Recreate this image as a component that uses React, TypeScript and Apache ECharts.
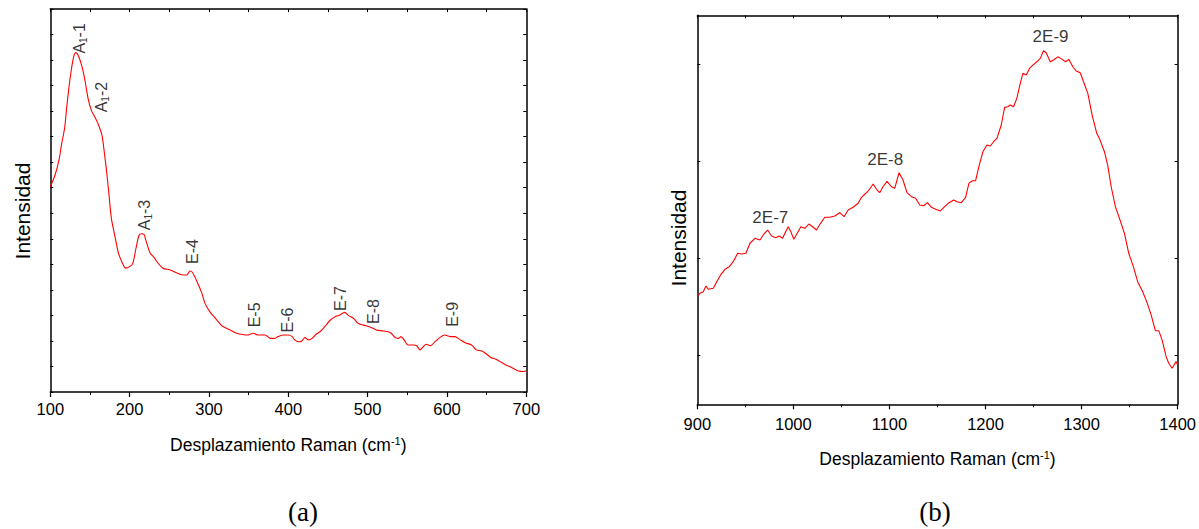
import React, { useEffect, useRef } from "react";
import * as echarts from "echarts";

// ---------- Panel (a): 100–700 cm-1 ----------
const ramanA = [100, 106, 111, 114, 118, 121, 125, 129, 132, 135, 140, 144, 148, 152, 156, 160, 165, 168, 171, 174, 177, 182, 186, 191, 195, 200, 204, 208, 212, 215, 218, 221, 226, 230, 236, 242, 251, 259, 268, 272, 276, 279, 285, 291, 295, 301, 308, 316, 322, 329, 335, 341, 348, 356, 362, 371, 377, 383, 387, 394, 400, 405, 408, 413, 417, 421, 425, 430, 435, 440, 446, 453, 459, 465, 471, 476, 482, 488, 495, 503, 511, 520, 528, 535, 539, 542, 546, 551, 558, 562, 566, 570, 574, 579, 585, 591, 597, 604, 610, 616, 623, 631, 637, 644, 650, 656, 661, 667, 673, 682, 690, 697, 700];
const intensityA = [8.04, 8.5, 9.09, 9.67, 10.33, 11.24, 12.29, 13.07, 13.29, 13.2, 12.74, 12.15, 11.44, 11.01, 10.78, 10.52, 10.07, 9.41, 8.63, 7.72, 6.8, 6.02, 5.43, 5.04, 4.85, 4.91, 5.04, 5.63, 6.15, 6.2, 6.18, 5.89, 5.43, 5.3, 5.04, 4.85, 4.78, 4.67, 4.58, 4.58, 4.74, 4.69, 4.32, 3.87, 3.47, 3.15, 2.89, 2.6, 2.5, 2.39, 2.3, 2.26, 2.23, 2.3, 2.23, 2.23, 2.1, 2.1, 2.17, 2.23, 2.23, 2.17, 2.04, 1.97, 2.0, 2.13, 2.04, 2.1, 2.26, 2.36, 2.56, 2.82, 2.95, 3.02, 3.12, 2.99, 2.89, 2.69, 2.62, 2.55, 2.43, 2.39, 2.34, 2.13, 2.1, 2.17, 2.04, 1.84, 1.84, 1.81, 1.65, 1.77, 1.87, 1.81, 1.97, 2.13, 2.23, 2.17, 2.17, 2.06, 1.93, 1.84, 1.65, 1.61, 1.48, 1.34, 1.29, 1.19, 1.08, 0.95, 0.82, 0.8, 0.83];
const peakNamesA = ["A{s|1}-1", "A{s|1}-2", "A{s|1}-3", "E-4", "E-5", "E-6", "E-7", "E-8", "E-9"];
const peakXA = [137, 165, 219, 279, 358, 399, 466, 508, 607];
const peakYA = [13.85, 11.55, 6.93, 5.5, 3.02, 2.82, 3.66, 3.15, 3.04];

// ---------- Panel (b): 900–1400 cm-1 ----------
const ramanB = [900, 902.8, 906.2, 909, 911.4, 916.6, 920.2, 924.3, 928.8, 933.3, 937.4, 942, 946.2, 950.6, 954.8, 960, 965.2, 969.3, 973.2, 977.3, 981.8, 985.2, 988.8, 991.2, 994.6, 997.4, 1000.5, 1004, 1007.8, 1012, 1016.1, 1020, 1024.1, 1028.3, 1032.7, 1037.9, 1043.1, 1048.3, 1052.8, 1057, 1062.2, 1067.4, 1070.9, 1075.4, 1078.8, 1083, 1086.5, 1089.9, 1093.3, 1097.5, 1102.1, 1105.5, 1110, 1114.1, 1118.3, 1122.9, 1127.3, 1131.5, 1135.7, 1139.5, 1143.7, 1148.1, 1153, 1157.5, 1162, 1166.8, 1170.3, 1174.8, 1179.3, 1182.7, 1186.3, 1189.7, 1193.1, 1197.3, 1201.5, 1205, 1208.4, 1211.9, 1216.4, 1219.9, 1223.3, 1225.8, 1229.2, 1232.6, 1236.2, 1238.9, 1242.4, 1245.8, 1249.3, 1253.4, 1257, 1260.4, 1263.2, 1267.4, 1270.8, 1275.3, 1279.8, 1283.3, 1286.7, 1290.9, 1294.4, 1298.6, 1302, 1306.5, 1311, 1315.8, 1319.3, 1323.8, 1327.2, 1330.8, 1335.2, 1339.4, 1344.6, 1349.1, 1353.9, 1358.4, 1363.6, 1367.8, 1372.4, 1376.8, 1380.3, 1383.8, 1388, 1390.7, 1394.2, 1398.4, 1400];
const intensityB = [1.107, 1.142, 1.158, 1.217, 1.183, 1.193, 1.261, 1.33, 1.388, 1.415, 1.467, 1.553, 1.546, 1.553, 1.656, 1.707, 1.69, 1.751, 1.792, 1.731, 1.713, 1.731, 1.707, 1.758, 1.826, 1.775, 1.697, 1.758, 1.826, 1.81, 1.854, 1.826, 1.792, 1.861, 1.923, 1.923, 1.936, 1.97, 1.929, 1.998, 2.026, 2.067, 2.128, 2.17, 2.204, 2.265, 2.211, 2.176, 2.237, 2.293, 2.237, 2.221, 2.381, 2.306, 2.176, 2.135, 2.118, 2.049, 2.042, 2.073, 2.026, 2.005, 1.988, 2.032, 2.073, 2.101, 2.083, 2.073, 2.128, 2.272, 2.299, 2.299, 2.443, 2.597, 2.666, 2.656, 2.7, 2.735, 2.872, 3.053, 3.06, 3.077, 3.06, 3.146, 3.3, 3.403, 3.385, 3.454, 3.488, 3.522, 3.557, 3.635, 3.615, 3.522, 3.54, 3.573, 3.547, 3.522, 3.547, 3.471, 3.427, 3.409, 3.317, 3.197, 2.974, 2.786, 2.717, 2.597, 2.46, 2.237, 2.032, 1.913, 1.758, 1.553, 1.415, 1.261, 1.158, 1.056, 0.919, 0.757, 0.757, 0.662, 0.49, 0.422, 0.371, 0.439, 0.405];
const yTicksB = [0.5, 1.5, 2.5, 3.5];
const peakNamesB = ["2E-7", "2E-8", "2E-9"];
const peakXB = [976, 1095.6, 1267.7];
const peakYB = [1.916, 2.522, 3.786];

const SANS = "'Liberation Sans', Arial, Helvetica, sans-serif";
const SERIF = "'Liberation Serif', 'Times New Roman', serif";
const BLACK = "#000000";
const RED = "#ff0000";

function zip(xs: number[], ys: number[]) {
  return xs.map((x, i) => [x, ys[i]]);
}

function bottomAxis(grid: number, min: number, max: number, margin: number, nameGap: number) {
  return {
    type: "value",
    gridIndex: grid,
    position: "bottom",
    min,
    max,
    interval: 100,
    axisLine: { show: true, onZero: false, lineStyle: { color: BLACK, width: 1.5 } },
    axisTick: { show: true, inside: false, length: 5, lineStyle: { color: BLACK, width: 1.2 } },
    minorTick: { show: true, splitNumber: 2, length: 3, lineStyle: { color: BLACK, width: 1 } },
    axisLabel: {
      show: true,
      color: BLACK,
      fontSize: 16.5,
      fontFamily: SANS,
      margin,
      formatter: (v: number) => String(v),
    },
    splitLine: { show: false },
    name: "{n|Desplazamiento Raman (cm}{p|-1}{n|)}",
    nameLocation: "middle",
    nameGap,
    nameTextStyle: {
      rich: {
        n: { fontSize: 17.5, fontFamily: SANS, color: BLACK, lineHeight: 20 },
        p: { fontSize: 11, fontFamily: SANS, color: BLACK, verticalAlign: "top", lineHeight: 10 },
      },
    },
  };
}

function topAxis(grid: number, min: number, max: number) {
  return {
    type: "value",
    gridIndex: grid,
    position: "top",
    min,
    max,
    interval: 50,
    axisLine: { show: true, onZero: false, lineStyle: { color: BLACK, width: 1.5 } },
    axisTick: { show: true, inside: true, length: 3, lineStyle: { color: BLACK, width: 1 } },
    axisLabel: { show: false },
    splitLine: { show: false },
  };
}

function sideAxis(grid: number, pos: string, min: number, max: number, extra: any) {
  return {
    type: "value",
    gridIndex: grid,
    position: pos,
    min,
    max,
    axisLine: { show: true, onZero: false, lineStyle: { color: BLACK, width: 1.5 } },
    axisTick: { show: true, inside: true, length: 3, lineStyle: { color: BLACK, width: 1 }, ...(extra.tick || {}) },
    axisLabel: { show: false },
    splitLine: { show: false },
    ...(extra.axis || {}),
  };
}

export default function App() {
  const ref = useRef<HTMLDivElement>(null);
  useEffect(() => {
    if (!ref.current) return;
    const chart = echarts.init(ref.current, undefined, { renderer: "svg" });
    const richLabel = {
      s: { fontSize: 10, fontFamily: SANS, color: BLACK, verticalAlign: "bottom", lineHeight: 8 },
    };
    const option: any = {
      animation: false,
      backgroundColor: "#ffffff",
      grid: [
        { left: 50.3, top: 9, width: 476, height: 383, containLabel: false },
        { left: 697.3, top: 15.3, width: 481, height: 389, containLabel: false },
      ],
      xAxis: [
        bottomAxis(0, 100, 700, 8, 43),
        topAxis(0, 100, 700),
        bottomAxis(1, 900, 1400, 11, 45),
        topAxis(1, 900, 1400),
      ],
      yAxis: [
        sideAxis(0, "left", 0, 15, { axis: { interval: 1 } }),
        sideAxis(0, "right", 0, 15, { axis: { interval: 1 } }),
        sideAxis(1, "left", 0, 4, { tick: { customValues: yTicksB } }),
        sideAxis(1, "right", 0, 4, { tick: { customValues: yTicksB } }),
      ],
      series: [
        {
          type: "line",
          xAxisIndex: 0,
          yAxisIndex: 0,
          data: zip(ramanA, intensityA),
          showSymbol: false,
          smooth: 0.3,
          lineStyle: { color: RED, width: 1.1 },
          silent: true,
        },
        {
          type: "line",
          xAxisIndex: 2,
          yAxisIndex: 2,
          data: zip(ramanB, intensityB),
          showSymbol: false,
          smooth: false,
          lineStyle: { color: RED, width: 1.1 },
          silent: true,
        },
        {
          type: "scatter",
          xAxisIndex: 0,
          yAxisIndex: 0,
          symbolSize: 1,
          itemStyle: { color: "transparent" },
          silent: true,
          data: peakNamesA.map((n, i) => ({ name: n, value: [peakXA[i], peakYA[i]] })),
          label: {
            show: true,
            position: "inside",
            rotate: 90,
            formatter: (p: any) => p.name,
            color: BLACK,
            fontSize: 16,
            fontFamily: SANS,
            lineHeight: 18,
            rich: richLabel,
          },
        },
        {
          type: "scatter",
          xAxisIndex: 2,
          yAxisIndex: 2,
          symbolSize: 1,
          itemStyle: { color: "transparent" },
          silent: true,
          data: peakNamesB.map((n, i) => ({ name: n, value: [peakXB[i], peakYB[i]] })),
          label: {
            show: true,
            position: "inside",
            formatter: (p: any) => p.name,
            color: BLACK,
            fontSize: 17,
            fontFamily: SANS,
          },
        },
      ],
      graphic: [
        {
          type: "text",
          x: 22,
          y: 211,
          rotation: Math.PI / 2,
          style: { text: "Intensidad", font: `21px ${SANS}`, fill: BLACK, textAlign: "center", textVerticalAlign: "middle" },
        },
        {
          type: "text",
          x: 678,
          y: 238,
          rotation: Math.PI / 2,
          style: { text: "Intensidad", font: `21px ${SANS}`, fill: BLACK, textAlign: "center", textVerticalAlign: "middle" },
        },
        {
          type: "text",
          x: 303,
          y: 512,
          style: { text: "(a)", font: `27px ${SERIF}`, fill: BLACK, textAlign: "center", textVerticalAlign: "middle" },
        },
        {
          type: "text",
          x: 935,
          y: 512,
          style: { text: "(b)", font: `27px ${SERIF}`, fill: BLACK, textAlign: "center", textVerticalAlign: "middle" },
        },
      ],
    };
    chart.setOption(option);
    return () => chart.dispose();
  }, []);
  return (
    <div
      ref={ref}
      style={{ position: "fixed", left: 0, top: 0, width: 1199, height: 529, background: "#fff" }}
    />
  );
}
